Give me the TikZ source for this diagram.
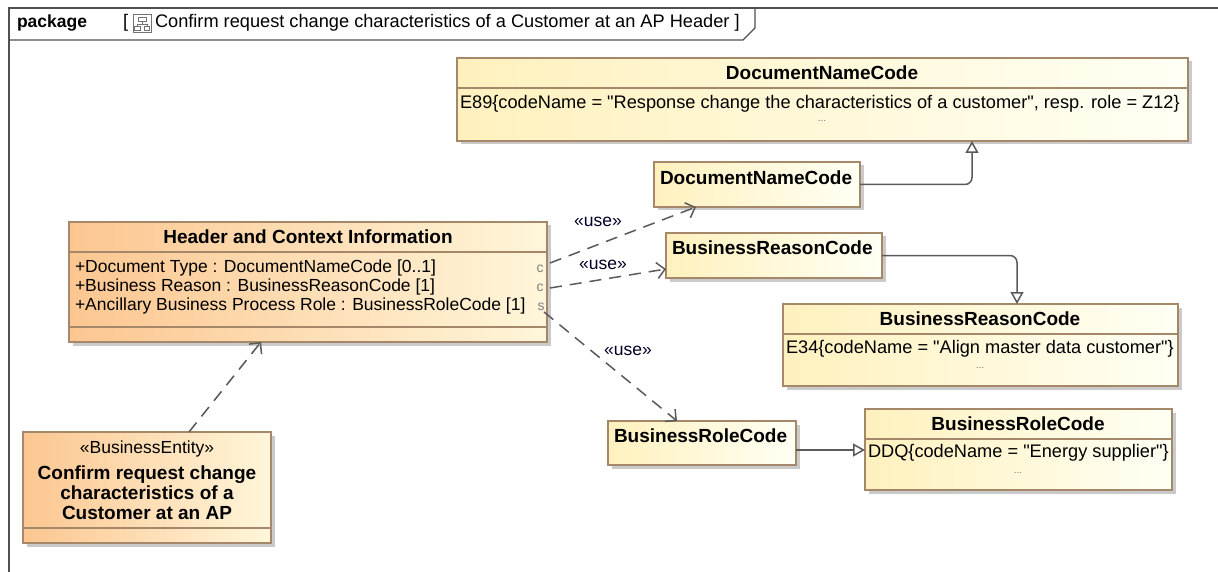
\documentclass[tikz,border=0pt]{standalone}
\usepackage{fontspec}
\setmainfont{Liberation Sans}[Ligatures=TeXOff]
\usetikzlibrary{arrows.meta,shadows,calc}
\definecolor{yelL}{HTML}{FFF1BE}
\definecolor{yelR}{HTML}{FFFFF4}
\definecolor{orL}{HTML}{FCC690}
\definecolor{orR}{HTML}{FFF6DA}
\definecolor{bord}{HTML}{A5876A}
\definecolor{lnk}{HTML}{5A5A5A}
\definecolor{frm}{HTML}{505050}
\begin{document}
\begin{tikzpicture}[x=1pt,y=-1pt,
  every node/.style={inner sep=0pt, outer sep=0pt},
  regf/.style={font=\fontsize{17.5}{19}\selectfont},
  cls/.style={draw=bord, line width=1.3pt, left color=yelL, right color=yelR,
    anchor=north west, drop shadow={shadow xshift=3.5pt, shadow yshift=-3.5pt, fill=black!35, opacity=0.6}},
  ocls/.style={cls, left color=orL, right color=orR},
  sep/.style={draw=bord, line width=1.3pt},
  ttl/.style={font=\bfseries\fontsize{19}{21}\selectfont, text=black},
  attr/.style={regf, anchor=west, text=black},
  lit/.style={anchor=west, text=black, font=\fontsize{18.2}{19}\selectfont},
  dots/.style={font=\fontsize{10}{10}\selectfont, text=black!55},
  gen/.style={draw=lnk, line width=1.5pt, rounded corners=7pt, -{Triangle[open, length=12pt, width=13pt, fill=white]}},
  dep/.style={draw=lnk, line width=1.5pt, dash pattern=on 12pt off 8pt, -{Straight Barb[length=8pt, width=16pt]}},
  lbl/.style={regf, text=black!85!blue},
  portmark/.style={font=\fontsize{14}{14}\selectfont, text=black!50}]
\useasboundingbox (0,0) rectangle (1218,572);
% package frame
\draw[frm, line width=1.3pt] (9,572) -- (9,8) -- (1218,8);
\draw[frm, line width=1.3pt] (9,40) -- (743,40) -- (755,28) -- (755,8);
\node[anchor=base west, font=\bfseries\fontsize{17.5}{19}\selectfont] (pk) at (17,28) {package};
\node[anchor=base west, font=\fontsize{18.2}{19}\selectfont] (pb1) at (123,28) {[};
\draw[black!55, line width=0.8pt, fill=white] (133,14) rectangle (151,32);
\draw[black!55, line width=0.8pt] (138,17) rectangle (146,21) (142,21) -- (142,24) (137,24) -- (147,24) (137,24) -- (137,26) (147,24) -- (147,26) (134.5,26) rectangle (140,30) (144,26) rectangle (149.5,30);
\node[anchor=base west, font=\fontsize{18.2}{19}\selectfont] (pt) at (155,28) {Confirm request change characteristics of a Customer at an AP Header ]};
% DocumentNameCode (enumeration)
\node[cls, minimum width=731pt, minimum height=83pt] (A) at (457,58) {};
\draw[sep] (457,88) -- (1188,88);
\node[ttl] (At) at (822,73) {DocumentNameCode};
\node[lit] (Aa) at (460,104) {E89\{codeName = "Response change the characteristics of a customer", resp. role = Z12\}};
\node[dots] (Ad) at (822,121) {...};
% small DocumentNameCode
\node[cls, minimum width=206pt, minimum height=45pt] (B) at (654,162) {};
\node[ttl, anchor=west] (Bt) at (660,178) {DocumentNameCode};
% small BusinessReasonCode
\node[cls, minimum width=216pt, minimum height=45pt] (C) at (666,233) {};
\node[ttl, anchor=west] (Ct) at (672,248) {BusinessReasonCode};
% BusinessReasonCode (enumeration)
\node[cls, minimum width=395pt, minimum height=82pt] (D) at (783,304) {};
\draw[sep] (783,334) -- (1178,334);
\node[ttl] (Dt) at (980,319) {BusinessReasonCode};
\node[lit] (Da) at (786,349) {E34\{codeName = "Align master data customer"\}};
\node[dots] (Dd) at (980,368) {...};
% small BusinessRoleCode
\node[cls, minimum width=188pt, minimum height=44pt] (E) at (608,421) {};
\node[ttl, anchor=west] (Et) at (614,436) {BusinessRoleCode};
% BusinessRoleCode (enumeration)
\node[cls, minimum width=307pt, minimum height=81pt] (F) at (865,409) {};
\draw[sep] (865,439) -- (1172,439);
\node[ttl] (Ft) at (1018,424) {BusinessRoleCode};
\node[lit] (Fa) at (868,453) {DDQ\{codeName = "Energy supplier"\}};
\node[dots] (Fd) at (1018,473) {...};
% Header and Context Information
\node[ocls, minimum width=478pt, minimum height=120pt] (H) at (69,222) {};
\draw[sep] (69,252) -- (547,252);
\draw[sep] (69,327) -- (547,327);
\node[ttl] (Ht) at (308,237) {Header and Context Information};
\node[attr] (Ha1) at (75,268) {+Document Type : DocumentNameCode [0..1]};
\node[attr] (Ha2) at (75,287) {+Business Reason : BusinessReasonCode [1]};
\node[attr] (Ha3) at (75,306) {+Ancillary Business Process Role : BusinessRoleCode [1]};
\node[portmark] (m1) at (540,269) {c};
\node[portmark] (m2) at (540,288) {c};
\node[portmark] (m3) at (541,307) {s};
% BusinessEntity
\node[ocls, minimum width=248pt, minimum height=111pt] (G) at (23,432) {};
\draw[sep] (23,528) -- (271,528);
\node[regf] (Gs) at (147,449) {«BusinessEntity»};
\node[ttl, align=center, font=\bfseries\fontsize{19}{20}\selectfont] (Gn) at (147,493) {Confirm request change\\characteristics of a\\Customer at an AP};
% generalizations
\draw[gen] (B.east) -| ($(A.south west)+(515,0)$);
\draw[gen] (C.east) -| ($(D.north west)+(234,0)$);
\draw[gen] ($(E.east)+(0,7)$) -- ($(E.east)+(69,7)$);
% usages
\draw[dep] ($(H.north east)+(3,41)$) -- ($(B.south west)+(42,0)$);
\draw[dep] ($(H.north east)+(3,66)$) -- ($(C.south west)+(0,-9)$);
\draw[dep] ($(H.north east)+(-3,90)$) -- ($(E.north west)+(69,0)$);
\draw[dep] ($(G.north west)+(166,0)$) -- ($(H.south west)+(192,0)$);
\node[lbl] (l1) at (598,222) {«use»};
\node[lbl] (l2) at (603,265) {«use»};
\node[lbl] (l3) at (628,351) {«use»};
\end{tikzpicture}
\end{document}
